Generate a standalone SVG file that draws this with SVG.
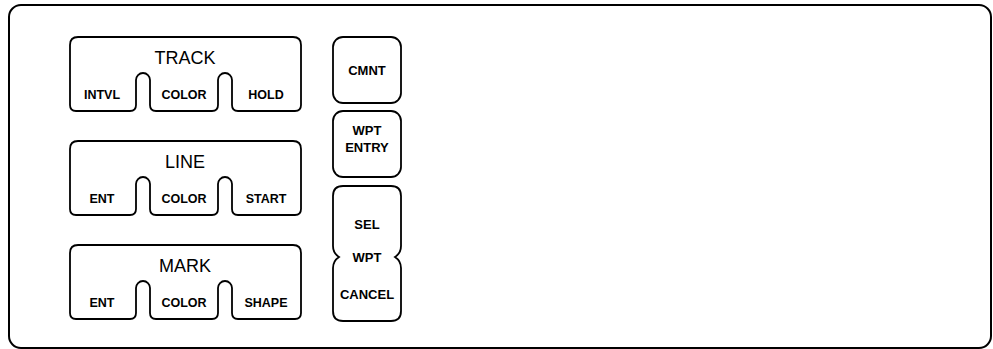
<svg xmlns="http://www.w3.org/2000/svg" xmlns:xlink="http://www.w3.org/1999/xlink" width="993" height="349" viewBox="0 0 993 349">
<style>
.frame{fill:none;stroke:#000;stroke-width:2}
.key{fill:#fff;stroke:#000;stroke-width:1.8}
.title{font-family:"Liberation Sans",Arial,sans-serif;font-size:18px;fill:#000;text-anchor:middle}
.lbl{font-family:"Liberation Sans",Arial,sans-serif;font-size:12.5px;font-weight:bold;fill:#000;text-anchor:middle}
.lbl2{font-family:"Liberation Sans",Arial,sans-serif;font-size:13px;font-weight:bold;fill:#000;text-anchor:middle}
</style>
<defs>
<path id="lobes" d="M 78,37 H 293 Q 301,37 301,45 V 105 Q 301,111 295,111 H 238 Q 232,111 232,105 V 80 A 7 7 0 0 0 218,80 V 105 Q 218,111 212,111 H 156 Q 150,111 150,105 V 80 A 7 7 0 0 0 136,80 V 105 Q 136,111 130,111 H 76 Q 70,111 70,105 V 45 Q 70,37 78,37 Z"/>
</defs>
<rect class="frame" x="9" y="5" width="982" height="343" rx="12"/>
<g id="track">
<use xlink:href="#lobes" class="key"/>
<text class="title" x="185" y="64">TRACK</text>
<text class="lbl" x="102" y="99">INTVL</text>
<text class="lbl" x="184" y="99">COLOR</text>
<text class="lbl" x="266" y="99">HOLD</text>
</g>
<g id="line">
<use xlink:href="#lobes" class="key" transform="translate(0,104)"/>
<text class="title" x="185" y="168">LINE</text>
<text class="lbl" x="102" y="203">ENT</text>
<text class="lbl" x="184" y="203">COLOR</text>
<text class="lbl" x="266" y="203">START</text>
</g>
<g id="mark">
<use xlink:href="#lobes" class="key" transform="translate(0,208)"/>
<text class="title" x="185" y="272">MARK</text>
<text class="lbl" x="102" y="307">ENT</text>
<text class="lbl" x="184" y="307">COLOR</text>
<text class="lbl" x="266" y="307">SHAPE</text>
</g>
<g id="cmnt">
<rect class="key" x="333" y="37" width="68" height="66" rx="10"/>
<text class="lbl2" x="367" y="75">CMNT</text>
</g>
<g id="wpt-entry">
<rect class="key" x="333" y="111" width="68" height="66" rx="10"/>
<text class="lbl2" x="367" y="135">WPT</text>
<text class="lbl2" x="367" y="152">ENTRY</text>
</g>
<g id="sel-wpt-cancel">
<path class="key" d="M 343,186 H 391 Q 401,186 401,196 V 246 Q 401,253 395,257 Q 401,261 401,268 V 311 Q 401,321 391,321 H 343 Q 333,321 333,311 V 268 Q 333,261 339,257 Q 333,253 333,246 V 196 Q 333,186 343,186 Z"/>
<text class="lbl2" x="367" y="229">SEL</text>
<text class="lbl2" x="367" y="262">WPT</text>
<text class="lbl2" x="367" y="299">CANCEL</text>
</g>
<g id="connectors"/>
</svg>
